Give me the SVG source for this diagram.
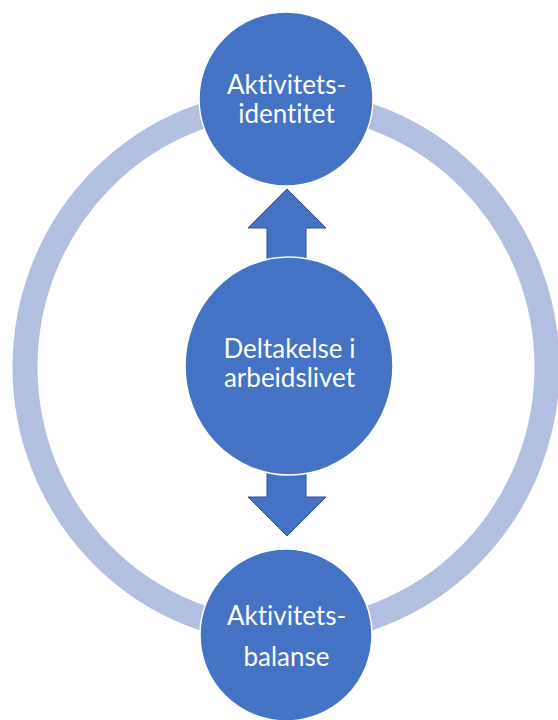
<svg xmlns="http://www.w3.org/2000/svg" width="558" height="720" viewBox="0 0 558 720">
<style>
.node{fill:#4472C4;stroke:#FFFFFF;stroke-width:1.5}
.arrow{fill:#4472C4;stroke:#2F528F;stroke-width:1}
.ring{fill:none;stroke:#B1BFE0;stroke-width:25}
.lbl{fill:#FFFFFF;font-family:Lato,"Open Sans","Liberation Sans",sans-serif;font-size:26px;text-anchor:middle;font-variant-ligatures:none}
</style>
<rect width="558" height="720" fill="#FFFFFF"/>
<g id="cycle-ring">
<ellipse class="ring" cx="286" cy="367" rx="261" ry="265"/>
</g>
<g id="connectors">
<polygon class="arrow" points="287,189 326,228 306,228 306,262 267,262 267,228 248,228"/>
<polygon class="arrow" points="267,470 306,470 306,497 326,497 287,536 248,497 267,497"/>
</g>
<g id="node-aktivitetsidentitet">
<circle class="node" cx="286" cy="99" r="87"/>
<text class="lbl" x="286.5" y="94">Aktivitets-</text>
<text class="lbl" x="286.5" y="123">identitet</text>
</g>
<g id="node-deltakelse">
<ellipse class="node" cx="289" cy="366" rx="104" ry="109"/>
<text class="lbl" x="289.5" y="358">Deltakelse i</text>
<text class="lbl" x="289.5" y="387">arbeidslivet</text>
</g>
<g id="node-aktivitetsbalanse">
<circle class="node" cx="286" cy="635" r="86"/>
<text class="lbl" x="286.5" y="625">Aktivitets-</text>
<text class="lbl" x="286.5" y="666">balanse</text>
</g>
</svg>
